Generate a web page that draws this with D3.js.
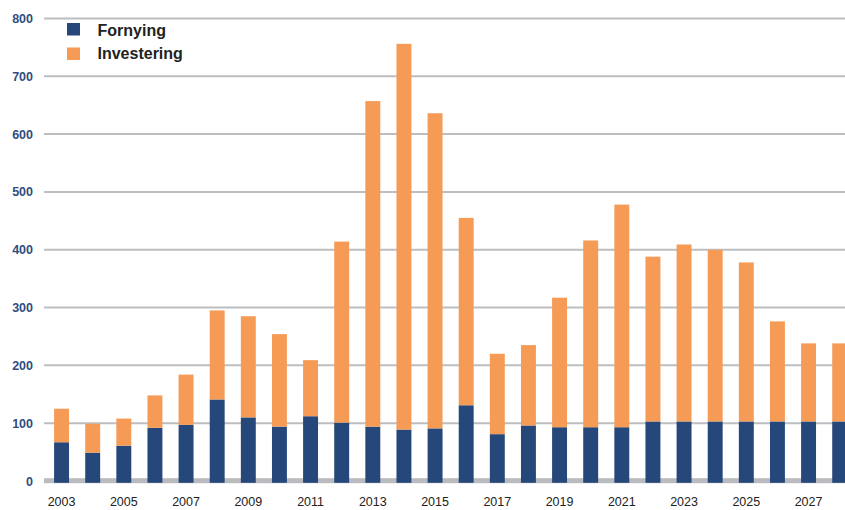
<!DOCTYPE html>
<html><head><meta charset="utf-8">
<script src="https://cdn.jsdelivr.net/npm/d3@7"></script>
<style>body{margin:0;background:#fff}svg{display:block}</style>
</head><body>
<svg id="c" width="845" height="510"></svg>
<script>
const years = d3.range(2003, 2029).map(String);
const fornying   = [67,49,61,92,97,141,110,94,112,101,94,89,91,131,81,96,93,93,93,103,103,103,103,103,103,103];
const investering= [58,50,47,56,87,154,175,160,97,313,563,667,545,324,139,139,224,323,385,285,306,297,275,173,135,135];
const yTicks = [0,100,200,300,400,500,600,700,800];
const xTickLabels = years.filter((d,i)=>i%2===0);
const seriesNames = ["Fornying","Investering"];
const colors = ["#26477a","#f59b56"];

const svg = d3.select("#c");
const x = d3.scaleBand().domain(years).range([46, 46+26*31.125]).paddingInner(0.52).paddingOuter(0.26);
const y = d3.scaleLinear().domain([0,800]).range([481, 18.4]);

// gridlines
svg.append("g").selectAll("line").data(yTicks.filter(d=>d>0)).join("line")
  .attr("x1",44).attr("x2",845).attr("y1",d=>y(d)).attr("y2",d=>y(d))
  .attr("stroke","#bcbec1").attr("stroke-width",2);
svg.append("rect").attr("x",44).attr("width",801).attr("y",y(0)-2.8).attr("height",5).attr("fill","#b9bbbe");

const rows = years.map((yr,i)=>({yr, f:fornying[i], inv:investering[i]}));
const stack = d3.stack().keys(["f","inv"])(rows);
svg.append("g").selectAll("g").data(stack).join("g").attr("fill",(d,i)=>colors[i])
  .selectAll("rect").data(d=>d).join("rect")
  .attr("x",d=>x(d.data.yr)).attr("width",x.bandwidth())
  .attr("y",d=>y(d[1])).attr("height",d=>y(d[0])-y(d[1])+(d[0]===0?1.8:0));

// y axis labels
const yAxis = d3.axisLeft(y).tickValues(yTicks).tickSize(0).tickPadding(0);
const ga = svg.append("g").attr("transform","translate(33,0)").call(yAxis);
ga.select(".domain").remove();
ga.selectAll("text").attr("fill","#2f4d7e").attr("font-family","Liberation Sans, Arial, sans-serif")
  .attr("font-size",12.5).attr("font-weight","bold");

// x axis labels
const xAxis = d3.axisBottom(x).tickValues(xTickLabels).tickSize(0).tickPadding(0);
const gx = svg.append("g").attr("transform","translate(0,497.5)").call(xAxis);
gx.select(".domain").remove();
gx.selectAll("text").attr("fill","#222").attr("font-family","Liberation Sans, Arial, sans-serif")
  .attr("font-size",12.5);

// legend
const lg = svg.append("g");
seriesNames.forEach((n,i)=>{
  lg.append("rect").attr("x",67).attr("y",23+i*24.5).attr("width",13).attr("height",12.5).attr("fill",colors[i]);
  lg.append("text").attr("x",97.5).attr("y",35.8+i*23.2).text(n)
    .attr("font-family","Liberation Sans, Arial, sans-serif").attr("font-size",16)
    .attr("font-weight","bold").attr("fill","#222");
});
</script>
</body></html>
